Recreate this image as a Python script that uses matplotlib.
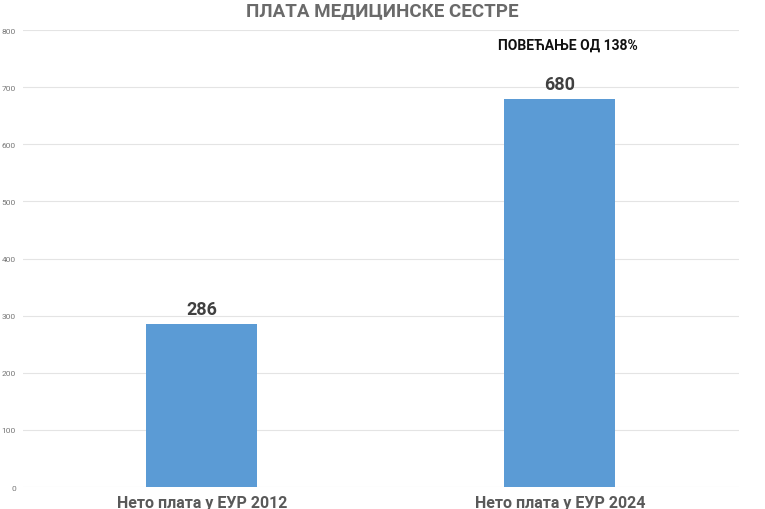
import numpy as np
import matplotlib.pyplot as plt

# подаци
categories = ['Нето плата у ЕУР 2012', 'Нето плата у ЕУР 2024']
values = [286, 680]
yticks = [0, 100, 200, 300, 400, 500, 600, 700, 800]
title = 'ПЛАТА МЕДИЦИНСКЕ СЕСТРЕ'
note = 'ПОВЕЋАЊЕ ОД 138%'

plt.rcParams['font.family'] = ['Roboto', 'DejaVu Sans']

fig = plt.figure(figsize=(7.65, 5.1), dpi=100)
ax = fig.add_axes([0.030, 0.0431, 0.936, 0.8961])

x = np.arange(len(categories))
ax.bar(x, values, width=0.31, color='#5B9BD5', zorder=3)

# подписи вредности изнад стубова
for xi, v in zip(x, values):
    ax.annotate(str(v), (xi, v), xytext=(0, 4), textcoords='offset points',
                ha='center', va='bottom', fontsize=13, fontweight='bold', color='#404040')

ax.text(1.022, 774, note, ha='center', va='center', fontsize=10,
        fontweight='bold', color='#111111')

ax.set_xlim(-0.5, 1.5)
ax.set_ylim(0, 800)
ax.set_yticks(yticks)
ax.set_yticklabels([str(t) for t in yticks], fontsize=6, color='#777777')
ax.tick_params(axis='y', length=0, pad=5)
ax.set_xticks(x)
ax.set_xticklabels(categories, fontsize=11.5, fontweight='bold', color='#595959')
ax.tick_params(axis='x', length=0, pad=6)
ax.grid(axis='y', color='#e4e4e4', linewidth=0.8, zorder=0)
for s in ax.spines.values():
    s.set_visible(False)

fig.text(0.5, 0.979, title, ha='center', va='center', fontsize=13.5,
         fontweight='bold', color='#6a6a6a')

fig.savefig('out.png', dpi=100)
